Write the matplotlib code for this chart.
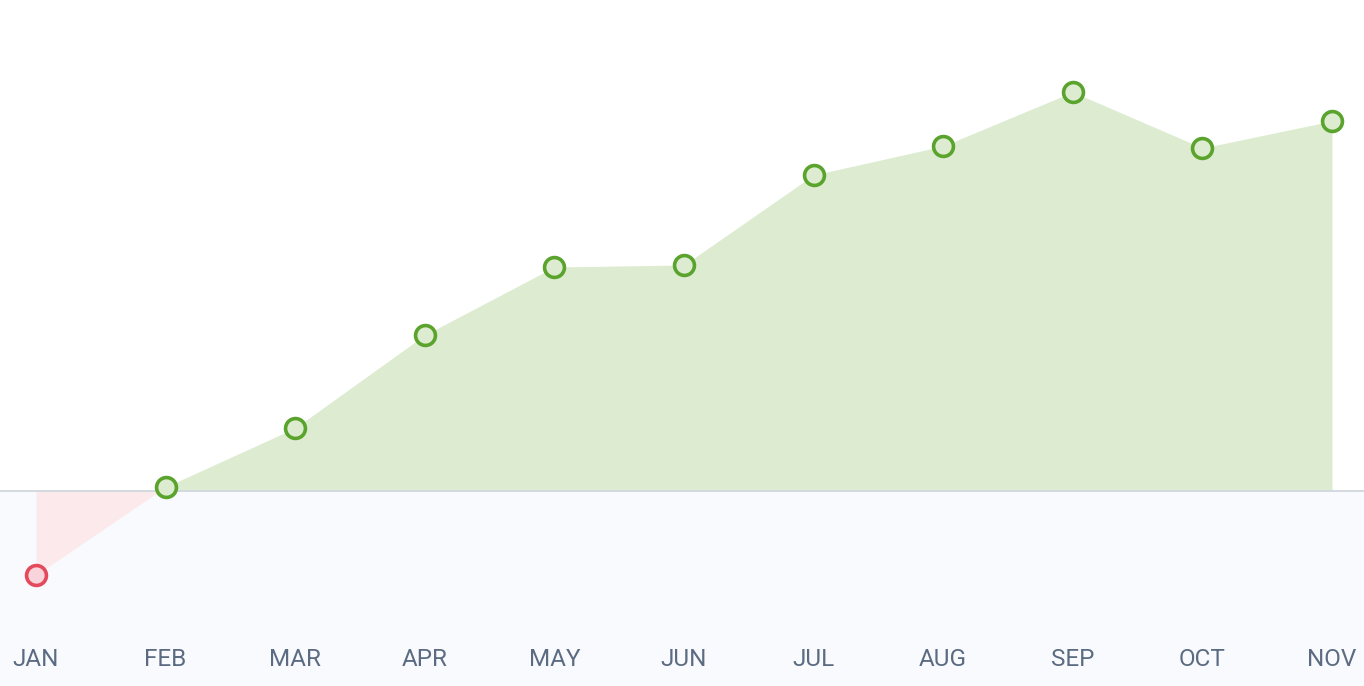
import matplotlib
matplotlib.use("Agg")
import matplotlib.pyplot as plt
import numpy as np

months = ["JAN", "FEB", "MAR", "APR", "MAY", "JUN", "JUL", "AUG", "SEP", "OCT", "NOV"]
values = [-84, 4, 63, 156, 224, 226, 316, 345, 399, 343, 370]

W, H, DPI = 1364, 686, 100
fig = plt.figure(figsize=(W / DPI, H / DPI), dpi=DPI)
ax = fig.add_axes([0, 0, 1, 1])
ax.set_axis_off()

step = (1332 - 36) / 10
ax.set_xlim(-36 / step, 10 + 32 / step)
ax.set_ylim(491 - 686, 491)

x = np.arange(len(months))
y = np.array(values, dtype=float)

# background below zero
ax.axhspan(491 - 686, 0, color="#f9fafd", zorder=0, lw=0)

ax.fill_between(x, y, 0, where=y >= 0, interpolate=True, color="#ddecd0", lw=0, zorder=1)
ax.fill_between(x, y, 0, where=y <= 0, interpolate=True, color="#fce9ec", lw=0, zorder=1)

ax.axhline(0, color="#d3dadf", lw=1.4, zorder=2)

for xi, yi in zip(x, y):
    if yi >= 0:
        ec, fc = "#5aa42e", "#ddecd0"
    else:
        ec, fc = "#e44a5c", "#f8d5da"
    ax.plot(xi, yi, "o", ms=14.3, mew=2.6, mec=ec, mfc=fc, zorder=3)

for xi, m in zip(x, months):
    ax.text(xi, 491 - 660, m, ha="center", va="center", fontsize=17.5,
            color="#5b6b82", family=["Roboto", "DejaVu Sans"])

fig.savefig("out.png", dpi=DPI)
